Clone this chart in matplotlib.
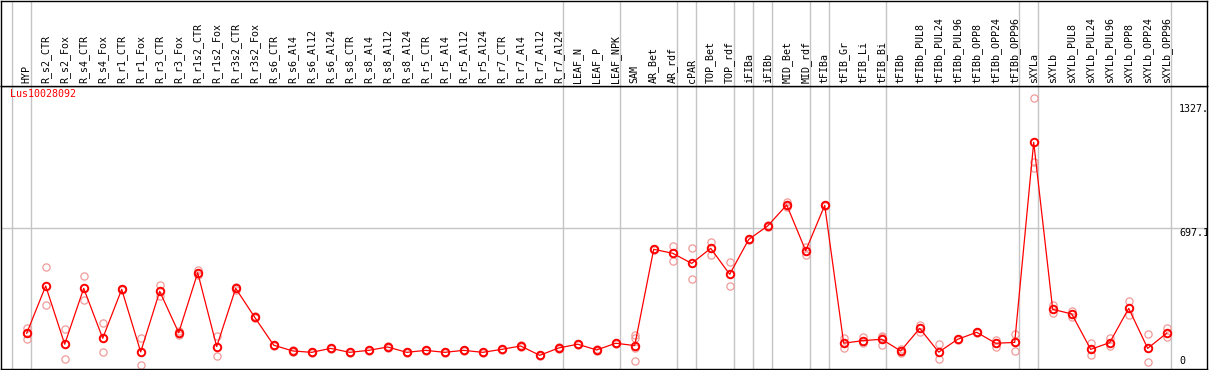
import matplotlib
matplotlib.use("Agg")
import matplotlib.pyplot as plt
import numpy as np

# column labels (samples)
labels = ["HYP", "R_s2_CTR", "R_s2_Fox", "R_s4_CTR", "R_s4_Fox", "R_r1_CTR", "R_r1_Fox",
          "R_r3_CTR", "R_r3_Fox", "R_r1s2_CTR", "R_r1s2_Fox", "R_r3s2_CTR", "R_r3s2_Fox",
          "R_s6_CTR", "R_s6_Al4", "R_s6_Al12", "R_s6_Al24", "R_s8_CTR", "R_s8_Al4", "R_s8_Al12",
          "R_s8_Al24", "R_r5_CTR", "R_r5_Al4", "R_r5_Al12", "R_r5_Al24", "R_r7_CTR", "R_r7_Al4",
          "R_r7_Al12", "R_r7_Al24", "LEAF_N", "LEAF_P", "LEAF_NPK", "SAM", "AR_Bet", "AR_rdf",
          "cPAR", "TOP_Bet", "TOP_rdf", "iFIBa", "iFIBb", "MID_Bet", "MID_rdf", "tFIBa",
          "tFIB_Gr", "tFIB_Li", "tFIB_Bi", "tFIBb", "tFIBb_PUL8", "tFIBb_PUL24", "tFIBb_PUL96",
          "tFIBb_OPP8", "tFIBb_OPP24", "tFIBb_OPP96", "sXYLa", "sXYLb", "sXYLb_PUL8",
          "sXYLb_PUL24", "sXYLb_PUL96", "sXYLb_OPP8", "sXYLb_OPP24", "sXYLb_OPP96"]

# mean expression per sample
means = [167, 406, 112, 394, 142, 389, 73, 379, 170, 473, 100, 394, 248,
         107, 78, 71, 91, 71, 81, 98, 71, 81, 71, 81, 71, 86, 103, 56, 93,
         112, 83, 117, 105, 591, 571, 520, 596, 465, 641, 709, 815, 584, 813,
         117, 130, 137, 78, 192, 72, 137, 172, 117, 121,
         1131, 288, 265, 86, 120, 293, 91, 168]

# individual replicates
reps = [[192, 168, 138], [503, 308], [189, 37], [455, 334], [218, 71], [392, 386],
        [142, 7], [411, 354], [179, 157], [487, 461], [153, 51], [400, 388], [252, 244],
        [110, 104], [81, 75], [74, 68], [94, 88], [74, 68], [84, 78], [101, 95],
        [74, 68], [84, 78], [74, 68], [84, 78], [74, 68], [89, 83], [106, 100],
        [59, 53], [96, 90], [115, 109], [86, 80], [120, 114],
        [158, 143, 91, 26], [595, 587], [609, 534], [596, 440], [628, 564], [525, 404],
        [644, 638], [712, 706], [828, 810, 807], [604, 564], [816, 810],
        [143, 91], [147, 116], [153, 148, 110], [86, 70], [209, 175], [112, 36],
        [140, 134], [175, 169], [133, 99], [162, 79],
        [1353, 1033, 1000], [310, 271], [281, 249], [117, 56], [142, 103],
        [330, 258], [164, 21], [192, 147]]

# last sample index of each group (separator lines)
group_ends = [-1, 0, 28, 31, 34, 35, 37, 38, 39, 41, 42, 45, 52, 53, 60]

gene = "Lus10028092"
ytick_vals = [1327, 697.1, 0]
ytick_text = ["1327.", "697.1", "0"]

W, H = 1209, 370
fig = plt.figure(figsize=(W / 100, H / 100), dpi=100)
mono = "DejaVu Sans Mono"
fs = 7.2

xlim = ((1 - 26.7) / 19, (1207 - 26.7) / 19)
ybot, ytop = 368.7, 85.6
ax = fig.add_axes([1 / W, (H - ybot) / H, 1206 / W, (ybot - ytop) / H])
hx = fig.add_axes([1 / W, (H - ytop) / H, 1206 / W, (ytop - 0.5) / H])

for a in (ax, hx):
    a.set_xlim(*xlim)
    a.set_xticks([])
    a.set_yticks([])
    for s in a.spines.values():
        s.set_linewidth(1.0)
        s.set_color("black")
    for g in group_ends:
        a.axvline(g + 0.2, color="#c4c4c4", lw=1.0, zorder=0)

hx.set_ylim(0, 1)
x = np.arange(len(labels))
for i, lab in enumerate(labels):
    hx.text(i, 0.03, lab, rotation=90, ha="center", va="bottom",
            fontsize=fs, family=mono)

ax.set_ylim(-11.6, 1417.5)
ax.axhline(697.1, color="#c4c4c4", lw=1.0, zorder=0)

for i, r in enumerate(reps):
    ax.plot([i] * len(r), r, "o", ms=5.2, mfc="none", mec="#f09a9a", mew=0.9, zorder=2)
ax.plot(x, means, "-", color="red", lw=0.9, zorder=3)
ax.plot(x, means, "o", ms=5.4, mfc="none", mec="red", mew=1.4, zorder=4)

for v, t in zip(ytick_vals, ytick_text):
    ax.text(60.65, v, t, ha="left", va="bottom" if v == 0 else "top",
            fontsize=fs, family=mono, clip_on=True)

ax.text(-0.9, 1400, gene, color="red", ha="left", va="top", fontsize=fs, family=mono)

fig.savefig("out.png", dpi=100)
